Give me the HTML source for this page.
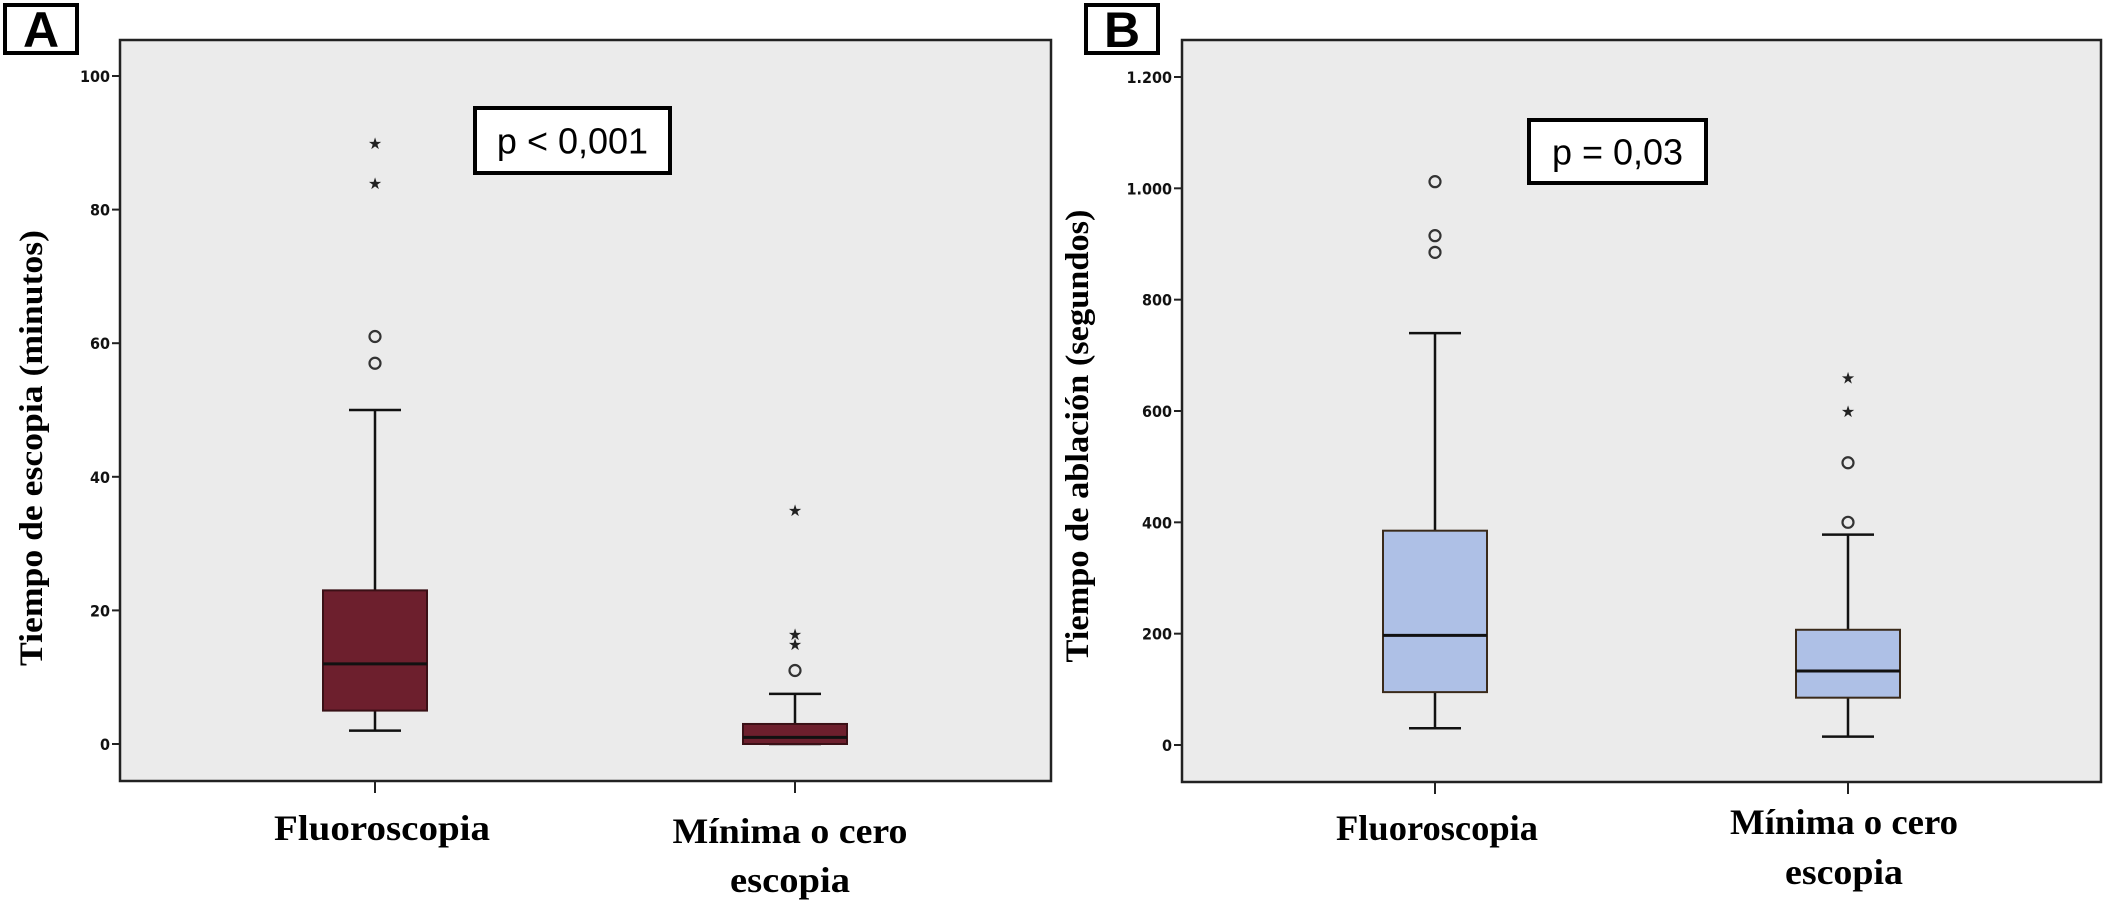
<!DOCTYPE html>
<html><head><meta charset="utf-8"><style>
html,body{margin:0;padding:0;background:#fff;}
svg{display:block;}
</style></head><body>
<svg id="fig" width="2108" height="907" xmlns="http://www.w3.org/2000/svg">
  <g id="panelA"></g>
  <g id="panelB"></g>
</svg>
<script>
const categories = ["Fluoroscopia", "Mínima o cero escopia"];
// Panel A: tiempo de escopia (minutos)
const aLow = [2, 0];
const aQ1 = [5, 0];
const aMedian = [12, 1];
const aQ3 = [23, 3];
const aHigh = [50, 7.5];
const aCircles = [[61, 57], [11]];
const aStars = [[90, 84], [35, 16.5, 15]];
const aTicks = [0, 20, 40, 60, 80, 100];
const aTickLabels = ["0", "20", "40", "60", "80", "100"];
// Panel B: tiempo de ablación (segundos)
const bLow = [30, 15];
const bQ1 = [95, 85];
const bMedian = [197, 133];
const bQ3 = [385, 207];
const bHigh = [740, 378];
const bCircles = [[1012, 915, 885], [507, 400]];
const bStars = [[], [660, 600]];
const bTicks = [0, 200, 400, 600, 800, 1000, 1200];
const bTickLabels = ["0", "200", "400", "600", "800", "1.000", "1.200"];

const NS = "http://www.w3.org/2000/svg";
function mk(parent, tag, attrs, text) {
  const e = document.createElementNS(NS, tag);
  for (const k in attrs) e.setAttribute(k, attrs[k]);
  if (text !== undefined) e.textContent = text;
  parent.appendChild(e);
  return e;
}

function drawPanel(g, cfg) {
  const yScale = v => cfg.y0 + (cfg.yTop - cfg.y0) * (v - cfg.tickMin) / (cfg.tickMax - cfg.tickMin);
  let e;
  e = mk(g, "rect", {x: cfg.left, y: cfg.top, width: cfg.right - cfg.left, height: cfg.bottom - cfg.top, fill: "#ebebeb", stroke: "#222", "stroke-width": 2.5});
  
  
  e = mk(g, "rect", {x: cfg.lx, y: 5, width: 72, height: 48, fill: "#fff", stroke: "#000", "stroke-width": 4});
  
  
  e = mk(g, "text", {x: cfg.lx + 36, y: 47, "text-anchor": "middle", "font-family": "Liberation Sans, sans-serif", "font-weight": "bold", "font-size": 50}, cfg.letter);
  
  
  cfg.ticks.forEach((t, i) => {
    const y = yScale(t);
    let l = mk(g, "line", {x1: cfg.left - 8, x2: cfg.left, y1: y, y2: y, stroke: "#222", "stroke-width": 2});
    
    
    let tx = mk(g, "text", {x: cfg.left - 10, y: y + 6, "text-anchor": "end", "font-family": "DejaVu Sans Condensed, DejaVu Sans, sans-serif", "font-weight": "bold", "font-size": 16, fill: "#111"}, cfg.tickLabels[i]);
    
    
  });
  e = mk(g, "text", {x: 0, y: 0, transform: `translate(${cfg.titleX},${cfg.titleY}) rotate(-90)`, "text-anchor": "middle", "font-family": "Liberation Serif, serif", "font-weight": "bold", "font-size": 33, textLength: cfg.titleLen, lengthAdjust: "spacingAndGlyphs", fill: "#000"}, cfg.title);
  
  
  e = mk(g, "rect", {x: cfg.px, y: cfg.py, width: cfg.pw, height: cfg.ph, fill: "#fff", stroke: "#000", "stroke-width": 4});
  
  
  e = mk(g, "text", {x: cfg.px + cfg.pw / 2, y: cfg.py + cfg.ph / 2 + 13, "text-anchor": "middle", "font-family": "Liberation Sans, sans-serif", "font-size": 36, fill: "#000"}, cfg.ptext);
  
  
  categories.forEach((c, i) => {
    const cx = cfg.cx[i], hw = cfg.boxHalf;
    let t = mk(g, "line", {x1: cx, x2: cx, y1: cfg.bottom, y2: cfg.bottom + 12, stroke: "#222", "stroke-width": 2});
    
    
    let w = mk(g, "line", {x1: cx, x2: cx, y1: yScale(cfg.low[i]), y2: yScale(cfg.high[i]), stroke: "#111", "stroke-width": 2.5});
    
    
    [cfg.low[i], cfg.high[i]].forEach(v => {
      let cap = mk(g, "line", {x1: cx - 26, x2: cx + 26, y1: yScale(v), y2: yScale(v), stroke: "#111", "stroke-width": 2.5});
      
      
    });
    let b = mk(g, "rect", {x: cx - hw, y: yScale(cfg.q3[i]), width: 2 * hw, height: yScale(cfg.q1[i]) - yScale(cfg.q3[i]), fill: cfg.fill, stroke: cfg.boxStroke, "stroke-width": 2});
    
    
    let m = mk(g, "line", {x1: cx - hw, x2: cx + hw, y1: yScale(cfg.med[i]), y2: yScale(cfg.med[i]), stroke: "#111", "stroke-width": 3});
    
    
    cfg.circles[i].forEach(v => {
      let o = mk(g, "circle", {cx: cx, cy: yScale(v), r: 5.5, fill: "none", stroke: "#333", "stroke-width": 2.2});
      
      
    });
    cfg.stars[i].forEach(v => {
      let s = mk(g, "text", {x: cx, y: yScale(v) + 6, "text-anchor": "middle", "font-family": "DejaVu Sans, sans-serif", "font-size": 16, fill: "#222"}, "★");
      
      
    });
  });
  cfg.labels.forEach(L => {
    let tx = mk(g, "text", {x: L.x, y: L.y, "text-anchor": "middle", "font-family": "Liberation Serif, serif", "font-weight": "bold", "font-size": 36, textLength: L.len, lengthAdjust: "spacingAndGlyphs", fill: "#000"}, L.t);
    
    
  });
}

drawPanel(document.getElementById("panelA"), {
  left: 120, right: 1051, top: 40, bottom: 781, y0: 744, yTop: 76, tickMin: 0, tickMax: 100,
  ticks: aTicks, tickLabels: aTickLabels, letter: "A", lx: 5,
  title: "Tiempo de escopia (minutos)", titleX: 42, titleY: 448, titleLen: 436,
  px: 475, py: 108, pw: 195, ph: 65, ptext: "p < 0,001",
  cx: [375, 795], boxHalf: 52,
  low: aLow, q1: aQ1, med: aMedian, q3: aQ3, high: aHigh, circles: aCircles, stars: aStars,
  fill: "#6d1f2d", boxStroke: "#3a1016",
  labels: [{t: "Fluoroscopia", x: 382, y: 840, len: 216}, {t: "Mínima o cero", x: 790, y: 843, len: 235}, {t: "escopia", x: 790, y: 892, len: 120}]
});
drawPanel(document.getElementById("panelB"), {
  left: 1182, right: 2101, top: 40, bottom: 782, y0: 745, yTop: 77, tickMin: 0, tickMax: 1200,
  ticks: bTicks, tickLabels: bTickLabels, letter: "B", lx: 1086,
  title: "Tiempo de ablación (segundos)", titleX: 1088, titleY: 436, titleLen: 453,
  px: 1529, py: 120, pw: 177, ph: 63, ptext: "p = 0,03",
  cx: [1435, 1848], boxHalf: 52,
  low: bLow, q1: bQ1, med: bMedian, q3: bQ3, high: bHigh, circles: bCircles, stars: bStars,
  fill: "#aec0e6", boxStroke: "#3a2a1a",
  labels: [{t: "Fluoroscopia", x: 1437, y: 840, len: 202}, {t: "Mínima o cero", x: 1844, y: 834, len: 228}, {t: "escopia", x: 1844, y: 884, len: 118}]
});
</script>
</body></html>
